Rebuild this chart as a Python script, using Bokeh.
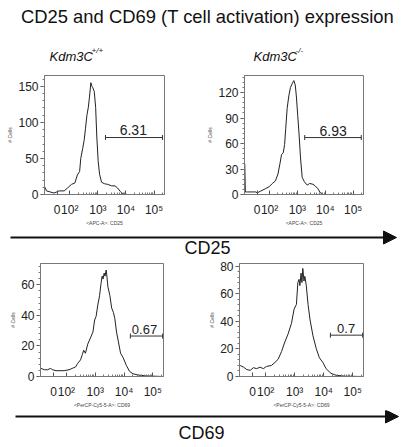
import numpy as np
from bokeh.plotting import figure
from bokeh.models import Range1d, FixedTicker, SingleIntervalTicker, Arrow, NormalHead
from bokeh.layouts import column, row
from bokeh.embed import file_html
from bokeh.resources import INLINE
from bokeh.core.properties import value

FONT = "Liberation Sans"

# ---------------- data ----------------
TITLE = "CD25 and CD69 (T cell activation) expression"
GENOTYPES = ["Kdm3C", "Kdm3C"]
GENOTYPE_SUP = ["+/+", "-/-"]
MARKERS = ["CD25", "CD69"]
X_AXIS_NAMES = ["<APC-A>: CD25", "<APC-A>: CD25", "<PerCP-Cy5-5-A>: CD69", "<PerCP-Cy5-5-A>: CD69"]
Y_AXIS_NAME = "# Cells"

# x positions in display (biexponential) units: 10^k -> k
XTICK_POS = [1.55, 2, 3, 4, 5]
XTICK_LABELS = ["0", "10²", "10³", "10⁴", "10⁵"]

# CD25, Kdm3C +/+
CD25_WT_U = [1.12, 1.17, 1.26, 1.44, 1.62, 1.80, 1.92, 2.06, 2.18, 2.27, 2.35, 2.39, 2.46, 2.51,
             2.56, 2.61, 2.66, 2.70, 2.75, 2.79, 2.82, 2.87, 2.92, 2.96, 3.01, 3.06, 3.13, 3.23,
             3.35, 3.49, 3.61, 3.70, 3.80, 3.89, 4.06, 5.37]
CD25_WT_N = [10, 5, 4, 2, 5, 5, 9, 14, 16, 27, 32, 50, 64, 75, 92, 110, 121, 135, 155, 150, 148,
             143, 121, 81, 46, 28, 17, 15, 14, 12, 12, 9, 4, 1, 0, 0]

# CD25, Kdm3C -/-
CD25_KO_U = [1.11, 1.13, 1.20, 1.50, 1.56, 1.68, 1.86, 1.98, 2.10, 2.21, 2.30, 2.37, 2.43, 2.49,
             2.54, 2.58, 2.63, 2.69, 2.75, 2.82, 2.87, 2.92, 2.96, 3.01, 3.06, 3.11, 3.17, 3.25,
             3.35, 3.44, 3.56, 3.64, 3.73, 3.82, 3.94, 5.37]
CD25_KO_N = [36, 3, 3, 3, 2, 4, 7, 9, 13, 16, 24, 36, 47, 49, 59, 78, 101, 116, 126, 131, 134,
             129, 116, 93, 70, 43, 20, 15, 11, 13, 12, 10, 7, 2, 0, 0]

# CD69, Kdm3C +/+
CD69_WT_U = [1.12, 1.24, 1.35, 1.44, 1.52, 1.64, 1.92, 2.09, 2.20, 2.32, 2.38, 2.49, 2.55, 2.60,
             2.66, 2.74, 2.83, 2.92, 2.98, 3.03, 3.09, 3.15, 3.20, 3.24, 3.27, 3.31, 3.34, 3.38,
             3.41, 3.44, 3.51, 3.57, 3.63, 3.68, 3.74, 3.80, 3.88, 3.97, 4.08, 4.19, 4.31, 4.48,
             4.76, 5.33]
CD69_WT_N = [5.3, 4.4, 4.4, 5.3, 4.4, 3.8, 3.8, 4.4, 5.3, 6.3, 8.3, 10.9, 14.3, 17.2, 15.2, 21.2,
             25.1, 29.1, 37, 39.4, 46.9, 52.9, 60.8, 65.7, 63.8, 67.7, 65.7, 69.7, 64.7, 58.8,
             52.9, 44.9, 42, 38, 29.1, 23.2, 15.2, 12.3, 7.3, 3.4, 1.8, 1, 0.4, 0]

# CD69, Kdm3C -/-
CD69_KO_U = [1.12, 1.24, 1.35, 1.47, 1.58, 1.69, 1.81, 1.92, 2.03, 2.20, 2.32, 2.43, 2.55, 2.66,
             2.77, 2.89, 2.98, 3.06, 3.11, 3.15, 3.18, 3.22, 3.25, 3.28, 3.32, 3.35, 3.40, 3.46,
             3.53, 3.63, 3.74, 3.85, 3.97, 4.08, 4.25, 4.42, 4.76, 5.33]
CD69_KO_N = [8, 6.8, 5, 4.5, 6.4, 5.7, 6.8, 5.7, 7.3, 8, 10.2, 12.5, 18.2, 25, 30.7, 38.6, 48.9,
             52.3, 68.2, 70.5, 66, 75, 68.2, 78.4, 69.3, 72.7, 66, 52.3, 41, 29.5, 20.5, 13.6,
             10.2, 5.7, 2.3, 0.9, 0.2, 0]

# gates (percent positive)
GATE_LO = [3.27, 3.26, 4.22, 4.23]
GATE_HI = [5.30, 5.29, 5.34, 5.34]
GATE_Y = [79, 67, 26.5, 30]
GATE_PCT = ["6.31", "6.93", "0.67", "0.7"]
PCT_U = [4.26, 4.28, 4.71, 4.77]
PCT_Y = [89, 75, 31, 35]

Y_MAX = [165, 140, 74, 82]
Y_STEP = [50, 30, 20, 20]

MINOR_X = [k + np.log10(m) for k in (2, 3, 4) for m in range(2, 10)] + [5 + np.log10(2)]


def canvas(w, h):
    p = figure(width=w, height=h, x_range=Range1d(0, w), y_range=Range1d(h, 0),
               x_axis_type=None, y_axis_type=None, output_backend="svg",
               toolbar_location=None, min_border=0)
    p.grid.visible = False
    p.outline_line_color = None
    p.background_fill_color = None
    p.border_fill_color = "white"
    return p


def panel(i, u, n, w, h, bl, br, bt, bb, pct_size):
    p = figure(width=w, height=h, x_range=Range1d(1.1, 5.37), y_range=Range1d(0, Y_MAX[i]),
               output_backend="svg", toolbar_location=None,
               min_border_left=bl, min_border_right=br, min_border_top=bt, min_border_bottom=bb)
    p.grid.visible = False
    p.outline_line_color = "#777777"
    p.line(u, n, line_color="#222222", line_width=1)
    # gate
    p.segment(x0=[GATE_LO[i]], y0=[GATE_Y[i]], x1=[GATE_HI[i]], y1=[GATE_Y[i]],
              line_color="#333333", line_width=1)
    p.scatter(x=[GATE_LO[i], GATE_HI[i]], y=[GATE_Y[i], GATE_Y[i]], marker="dash",
              angle=np.pi / 2, size=5, line_color="#333333", line_width=1)
    p.text(x=[PCT_U[i]], y=[PCT_Y[i]], text=[GATE_PCT[i]], text_align="center",
           text_baseline="middle", text_font=value(FONT), text_font_size=pct_size,
           text_color="#222222")
    # x axis
    xa = p.xaxis[0]
    xa.ticker = FixedTicker(ticks=XTICK_POS, minor_ticks=MINOR_X)
    xa.major_label_overrides = {k: v for k, v in zip(XTICK_POS, XTICK_LABELS)}
    xa.major_tick_in = 4
    xa.major_tick_out = 0
    xa.minor_tick_in = 2
    xa.minor_tick_out = 0
    xa.major_label_standoff = 8
    xa.major_label_text_font = FONT
    xa.major_label_text_font_size = "12px"
    xa.major_label_text_color = "#222222"
    xa.axis_label = X_AXIS_NAMES[i]
    xa.axis_label_standoff = 0
    xa.axis_label_text_font = FONT
    xa.axis_label_text_font_size = "5px"
    xa.axis_label_text_font_style = "normal"
    xa.axis_label_text_color = "#444444"
    # y axis
    ya = p.yaxis[0]
    ya.ticker = SingleIntervalTicker(interval=Y_STEP[i], num_minor_ticks=5)
    ya.major_tick_in = 0
    ya.major_tick_out = 4
    ya.minor_tick_in = 0
    ya.minor_tick_out = 2
    ya.major_label_standoff = 2
    ya.major_label_text_font = FONT
    ya.major_label_text_font_size = "12px"
    ya.major_label_text_color = "#222222"
    ya.axis_label = Y_AXIS_NAME
    ya.axis_label_standoff = 2
    ya.axis_label_text_font = FONT
    ya.axis_label_text_font_size = "5px"
    ya.axis_label_text_font_style = "normal"
    ya.axis_label_text_color = "#444444"
    for a in (xa, ya):
        a.axis_line_color = "#777777"
        a.major_tick_line_color = "#555555"
        a.minor_tick_line_color = "#777777"
    return p


W = 400

# header with title and genotype labels
header = canvas(W, 70)
header.text(x=[207], y=[16], text=[TITLE], text_align="center", text_baseline="middle",
            text_font=value(FONT), text_font_size="18.4px", text_color="#111111")
gx = [49, 253]
for k in range(2):
    header.text(x=[gx[k]], y=[56], text=[GENOTYPES[k]], text_align="left",
                text_baseline="middle", text_font=value(FONT), text_font_size="13px",
                text_font_style="italic", text_color="#111111")
    header.text(x=[gx[k] + 42], y=[50], text=[GENOTYPE_SUP[k]], text_align="left",
                text_baseline="middle", text_font=value(FONT), text_font_size="8px",
                text_font_style="italic", text_color="#111111")

p1 = panel(0, CD25_WT_U, CD25_WT_N, 200, 158, 44, 36, 5, 30, "14px")
p2 = panel(1, CD25_KO_U, CD25_KO_N, 200, 158, 44, 37, 5, 30, "14px")
p3 = panel(2, CD69_WT_U, CD69_WT_N, 200, 151, 40, 37, 0, 28, "13px")
p4 = panel(3, CD69_KO_U, CD69_KO_N, 200, 151, 39, 37, 4, 28, "13px")

arrow1 = canvas(W, 31)
arrow1.add_layout(Arrow(x_start=10, y_start=9, x_end=396, y_end=9, line_width=2, line_color="#111111",
                        end=NormalHead(size=13, fill_color="#111111", line_color="#111111")))
arrow1.text(x=[207], y=[19], text=[MARKERS[0]], text_align="center", text_baseline="middle",
            text_font=value(FONT), text_font_size="18px", text_color="#111111")

arrow2 = canvas(W, 36)
arrow2.add_layout(Arrow(x_start=15, y_start=6, x_end=398, y_end=6, line_width=2, line_color="#111111",
                        end=NormalHead(size=13, fill_color="#111111", line_color="#111111")))
arrow2.text(x=[201], y=[22], text=[MARKERS[1]], text_align="center", text_baseline="middle",
            text_font=value(FONT), text_font_size="18px", text_color="#111111")

layout = column(header, row(p1, p2), arrow1, row(p3, p4), arrow2)

open("out.html", "w").write(file_html(layout, INLINE))
